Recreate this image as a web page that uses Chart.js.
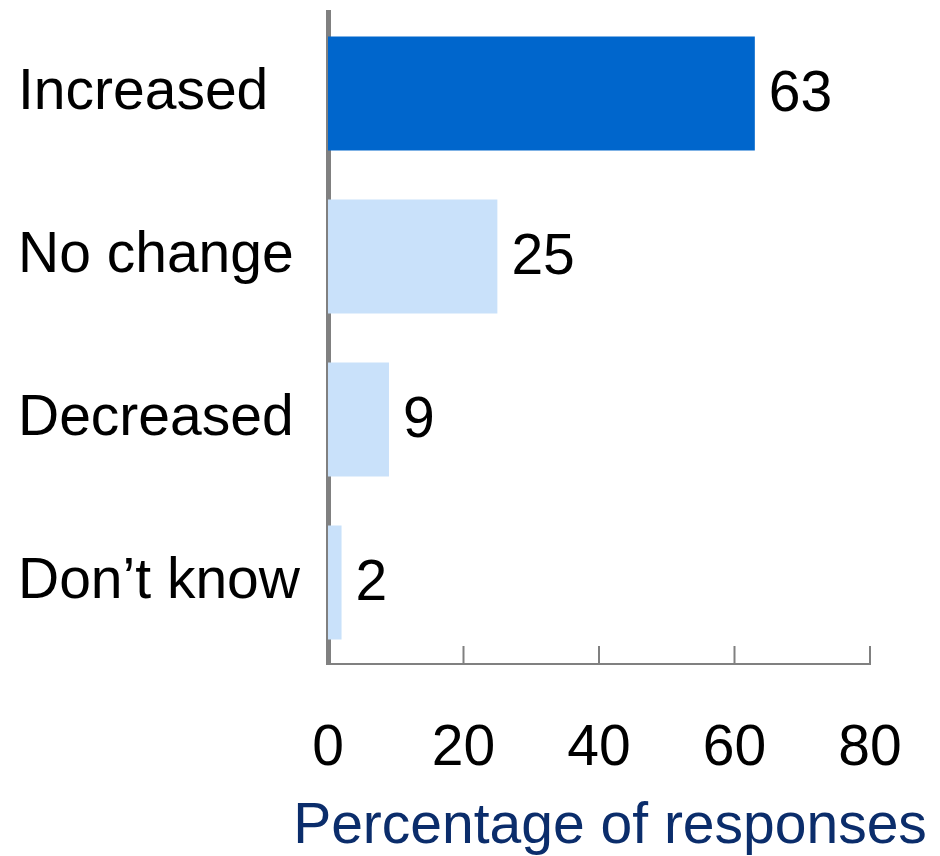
<!DOCTYPE html>
<html>
<head>
<meta charset="utf-8">
<script src="https://cdn.jsdelivr.net/npm/chart.js@4.4.0/dist/chart.umd.min.js"></script>
<style>
  html, body { margin: 0; padding: 0; background: #fff; }
  #wrap { width: 940px; height: 856px; }
</style>
</head>
<body>
<div id="wrap"><canvas id="myChart" width="940" height="856"></canvas></div>
<script>
const categorias = ['Increased', 'No change', 'Decreased', 'Don\u2019t know'];
const valores = [63, 25, 9, 2];
const colores = ['#0066cc', '#c9e1fa', '#c9e1fa', '#c9e1fa'];
const ticksX = [0, 20, 40, 60, 80];
const tituloX = 'Percentage of responses';

const fuente = 'Liberation Sans, Arial, Helvetica, sans-serif';

// marcas del eje x hacia arriba + titulo del eje (sin recorte de ancho)
const ejeX = {
    id: 'ejeX',
    afterDraw(chart) {
        const ctx = chart.ctx;
        const x = chart.scales.x;
        const abajo = chart.chartArea.bottom;
        ctx.save();
        ctx.strokeStyle = '#808080';
        ctx.lineWidth = 2;
        ticksX.forEach(t => {
            if (t === 0) return;
            const px = x.getPixelForValue(t);
            ctx.beginPath();
            ctx.moveTo(px, abajo - 18);
            ctx.lineTo(px, abajo);
            ctx.stroke();
        });
        ctx.font = '57px ' + fuente;
        ctx.fillStyle = '#0b2d6b';
        ctx.textAlign = 'center';
        ctx.textBaseline = 'alphabetic';
        ctx.fillText(tituloX, 610, 843);
        ctx.restore();
    }
};

// numeros al final de cada barra
const etiquetas = {
    id: 'etiquetas',
    afterDatasetsDraw(chart) {
        const ctx = chart.ctx;
        const meta = chart.getDatasetMeta(0);
        ctx.save();
        ctx.font = '57px ' + fuente;
        ctx.fillStyle = '#000';
        ctx.textAlign = 'left';
        ctx.textBaseline = 'middle';
        meta.data.forEach((bar, i) => {
            ctx.fillText(String(valores[i]), bar.x + 14, bar.y + 2);
        });
        ctx.restore();
    }
};

let ctx = document.getElementById('myChart').getContext('2d');
let myChart = new Chart(ctx, {
    type: 'bar',
    data: {
        labels: categorias,
        datasets: [{
            data: valores,
            backgroundColor: colores,
            barPercentage: 0.7,
            categoryPercentage: 1
        }]
    },
    options: {
        indexAxis: 'y',
        responsive: false,
        animation: false,
        layout: { padding: { left: 18, right: 70, top: 12, bottom: 0 } },
        plugins: {
            legend: { display: false },
            tooltip: { enabled: false }
        },
        scales: {
            x: {
                min: 0,
                max: 80,
                ticks: {
                    stepSize: 20,
                    padding: 51,
                    color: '#000',
                    font: { family: fuente, size: 57 }
                },
                grid: { display: false, drawTicks: false },
                border: { display: true, color: '#808080', width: 2 },
                afterFit(scale) {
                    scale.height = 192;
                    scale.paddingLeft = 0;
                    scale.paddingRight = 0;
                }
            },
            y: {
                ticks: {
                    crossAlign: 'far',
                    padding: 0,
                    color: '#000',
                    font: { family: fuente, size: 57 }
                },
                grid: { display: false, drawTicks: false },
                border: { display: true, color: '#808080', width: 5 },
                afterFit(scale) {
                    scale.width = 310;
                    scale.paddingTop = 0;
                    scale.paddingBottom = 0;
                }
            }
        }
    },
    plugins: [ejeX, etiquetas]
});
</script>
</body>
</html>
